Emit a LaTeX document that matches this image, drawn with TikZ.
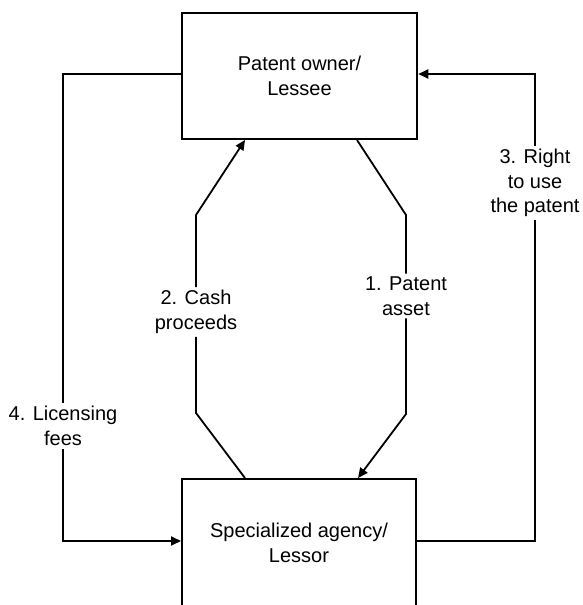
\documentclass[tikz,border=0pt]{standalone}
\usepackage{fontspec}
\setmainfont{Liberation Sans}
\usetikzlibrary{arrows.meta}
\begin{document}
\begin{tikzpicture}[x=1pt,y=-1pt,
  box/.style={draw,line width=2pt,inner sep=0pt,align=center,font=\fontsize{20}{25}\selectfont},
  lbl/.style={align=center,inner sep=3pt,font=\fontsize{20}{24.5}\selectfont},
  conn/.style={line width=1.8pt,line join=miter},
  arr/.style={conn,-{Triangle[length=10pt,width=9pt]}}]
\useasboundingbox (0,0) rectangle (582,605);
\node[box,minimum width=235.5pt,minimum height=126pt] (owner) at (299.5,76) {Patent owner/\\Lessee};
\node[box,minimum width=234pt,minimum height=128pt] (lessor) at (299,543) {Specialized agency/\\Lessor};
\node[lbl] (l1) at (406,296) {1. Patent\\asset};
\node[lbl] (l2) at (196,312) {2. Cash\\proceeds};
\node[lbl] (l3) at (535,183) {3. Right\\to use\\the patent};
\node[lbl] (l4) at (63,426) {4. Licensing\\fees};
% 1. Patent asset
\draw[conn] (owner.south -| 357,0) -- (406,215) -- (l1.north);
\draw[arr] (l1.south) -- (406,414) -- (lessor.north -| 358,0);
% 2. Cash proceeds
\draw[conn] (lessor.north -| 245,0) -- (196,413) -- (l2.south);
\draw[arr] (l2.north) -- (196,215) -- (owner.south -| 245,0);
% 3. Right to use the patent
\draw[conn] (lessor.east |- 0,541) -- (535,541) -- (l3.south);
\draw[arr] (l3.north) -- (535,74) -- (owner.east |- 0,74);
% 4. Licensing fees
\draw[conn] (owner.west |- 0,74) -- (63,74) -- (l4.north);
\draw[arr] (l4.south) -- (63,541) -- (lessor.west |- 0,541);
\end{tikzpicture}
\end{document}
